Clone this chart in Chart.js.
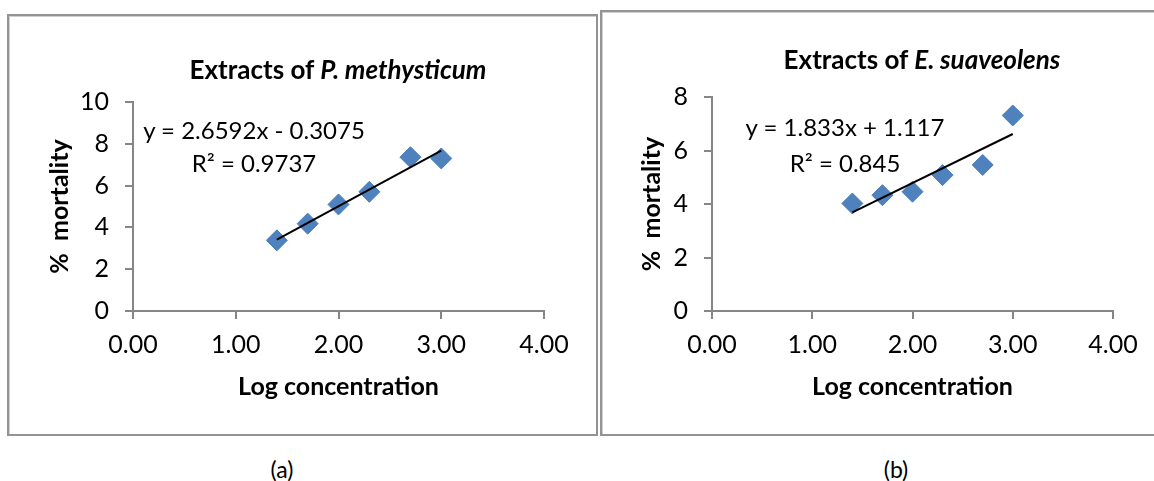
<!DOCTYPE html>
<html>
<head>
<meta charset="utf-8">
<script src="https://cdn.jsdelivr.net/npm/chart.js@4.4.1/dist/chart.umd.min.js"></script>
<style>
    body { margin: 0; background: #fff; width: 1154px; height: 481px; overflow: hidden; position: relative; font-family: Lato, sans-serif; }
    .frame { position: absolute; box-sizing: border-box; border: 2px solid #939393; box-shadow: inset 1px 1px 0 #d0d0d0; }
    canvas { position: absolute; top: 0; }
    .txt { position: absolute; white-space: nowrap; transform: translate(-50%, -50%); color: #000; }
    .title { font-size: 26px; font-weight: bold; }
    .eq { font-size: 24px; }
    .cap { font-size: 23px; }
</style>
</head>
<body>
<div class="frame" style="left:7px;top:14px;width:591px;height:422px;"></div>
<div class="frame" style="left:600px;top:10px;width:570px;height:426px;"></div>

<canvas id="chartA" width="598" height="440" style="left:0px;"></canvas>
<canvas id="chartB" width="556" height="440" style="left:598px;"></canvas>

<div class="txt title" style="left:338px;top:69px;">Extracts of <i>P. methysticum</i></div>
<div class="txt title" style="left:922px;top:59px;">Extracts of <i>E. suaveolens</i></div>

<div class="txt eq" style="left:254px;top:129px;">y = 2.6592x - 0.3075</div>
<div class="txt eq" style="left:254px;top:162px;">R² = 0.9737</div>
<div class="txt eq" style="left:845px;top:126px;">y = 1.833x + 1.117</div>
<div class="txt eq" style="left:845px;top:162px;">R² = 0.845</div>

<div class="txt cap" style="left:282px;top:469px;">(a)</div>
<div class="txt cap" style="left:896px;top:469px;">(b)</div>

<script>
// Data
const logConc = [1.40, 1.70, 2.00, 2.30, 2.70, 3.00];
const mortalityPiper = [3.38, 4.18, 5.10, 5.70, 7.36, 7.30];
const mortalityEuc = [4.02, 4.33, 4.46, 5.08, 5.46, 7.31];

// Trendline equations printed on the charts
const trendPiper = { slope: 2.6592, intercept: -0.3075 };
const trendEuc = { slope: 1.833, intercept: 1.117 };

const xTicks = [0, 1, 2, 3, 4];
const yMaxPiper = 10;
const yMaxEuc = 8;

const axisGray = '#868686';
const markerBlue = '#4f81bd';
const titleSize = 25;

function trendPoints(trend) {
    const x0 = logConc[0];
    const x1 = logConc[logConc.length - 1];
    return [
        { x: x0, y: trend.slope * x0 + trend.intercept },
        { x: x1, y: trend.slope * x1 + trend.intercept }
    ];
}

function makeChart(canvasId, values, trend, yMax, box) {
    const ctx = document.getElementById(canvasId).getContext('2d');
    const half = titleSize * 1.2 / 2;
    return new Chart(ctx, {
        type: 'scatter',
        data: {
            datasets: [{
                label: 'trend',
                type: 'line',
                data: trendPoints(trend),
                borderColor: '#000',
                borderWidth: 2,
                pointRadius: 0,
                order: 0
            }, {
                label: 'data',
                data: logConc.map((x, i) => ({ x: x, y: values[i] })),
                pointStyle: 'rectRot',
                pointRadius: 10.5,
                backgroundColor: markerBlue,
                borderColor: '#4a7ebb',
                borderWidth: 1,
                order: 1
            }]
        },
        options: {
            responsive: false,
            animation: false,
            layout: { padding: { left: 0, right: box.padRight, top: box.top, bottom: 0 } },
            plugins: {
                legend: { display: false },
                tooltip: { enabled: false }
            },
            scales: {
                x: {
                    type: 'linear',
                    min: 0,
                    max: 4,
                    afterBuildTicks: (scale) => { scale.ticks = xTicks.map(v => ({ value: v })); },
                    afterFit: (scale) => { scale.height = 129; },
                    border: { display: true, color: axisGray, width: 2 },
                    grid: { drawOnChartArea: false, drawTicks: true, tickLength: 8, color: axisGray, lineWidth: 2 },
                    ticks: {
                        padding: 11,
                        color: '#000',
                        font: { family: 'Lato', size: 25 },
                        callback: (v) => Number(v).toFixed(2)
                    },
                    title: {
                        display: true,
                        text: 'Log concentration',
                        color: '#000',
                        font: { family: 'Lato', size: titleSize, weight: 'bold' },
                        padding: { top: 0, bottom: 440 - 387 - half }
                    }
                },
                y: {
                    min: 0,
                    max: yMax,
                    afterFit: (scale) => { scale.width = box.left; },
                    border: { display: true, color: axisGray, width: 2 },
                    grid: { drawOnChartArea: false, drawTicks: true, tickLength: 8, color: axisGray, lineWidth: 2 },
                    ticks: {
                        stepSize: 2,
                        padding: 16,
                        color: '#000',
                        font: { family: 'Lato', size: 25 }
                    },
                    title: {
                        display: true,
                        text: '%  mortality',
                        color: '#000',
                        font: { family: 'Lato', size: titleSize, weight: 'bold' },
                        padding: { top: box.yTitle - half, bottom: 0 }
                    }
                }
            }
        }
    });
}

document.addEventListener('DOMContentLoaded', function() {
    makeChart('chartA', mortalityPiper, trendPiper, yMaxPiper, { left: 133, top: 102, padRight: 54, yTitle: 60 });
    makeChart('chartB', mortalityEuc, trendEuc, yMaxEuc, { left: 114, top: 97, padRight: 41, yTitle: 54 });
});
</script>
</body>
</html>
